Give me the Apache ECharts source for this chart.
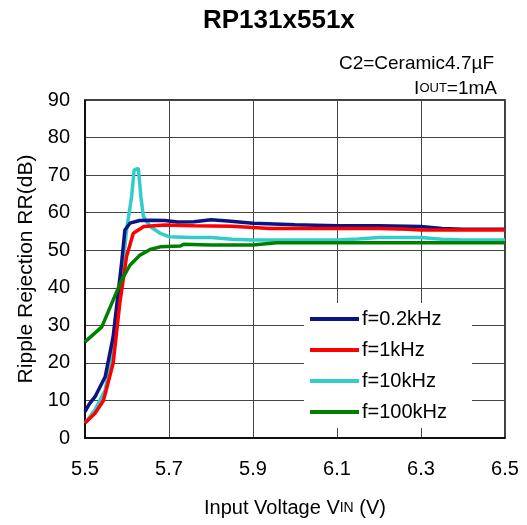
<!DOCTYPE html>
<html><head><meta charset="utf-8">
<script src="https://cdn.jsdelivr.net/npm/echarts@6/dist/echarts.min.js"></script>
<style>html,body{margin:0;padding:0;background:#fff}#c{width:527px;height:525px}</style>
</head><body><div id="c"></div>
<script>
const seriesNames = ['f=0.2kHz', 'f=1kHz', 'f=10kHz', 'f=100kHz'];
const vin_02k = [5.50, 5.51, 5.524, 5.548, 5.567, 5.587, 5.595, 5.607, 5.63, 5.66, 5.69, 5.72, 5.76, 5.80, 5.84, 5.90, 6.00, 6.10, 6.20, 6.30, 6.35, 6.40, 6.50];
const rr_02k  = [7.0, 9.0, 11.0, 16.3, 27, 46.5, 55.4, 57.2, 57.9, 58.0, 57.9, 57.5, 57.6, 58.1, 57.8, 57.2, 56.8, 56.5, 56.5, 56.3, 55.8, 55.6, 55.6];
const vin_1k  = [5.50, 5.524, 5.544, 5.567, 5.583, 5.599, 5.615, 5.64, 5.69, 5.76, 5.85, 5.94, 6.00, 6.10, 6.20, 6.27, 6.30, 6.40, 6.50];
const rr_1k   = [4.0, 6.6, 10.0, 19.9, 36, 48.3, 54.5, 56.3, 56.7, 56.5, 56.4, 55.8, 55.8, 55.8, 55.8, 55.6, 55.4, 55.4, 55.4];
const vin_10k = [5.50, 5.524, 5.548, 5.567, 5.587, 5.599, 5.611, 5.617, 5.627, 5.633, 5.639, 5.655, 5.679, 5.70, 5.75, 5.80, 5.85, 5.90, 6.00, 6.10, 6.15, 6.20, 6.30, 6.35, 6.40, 6.50];
const rr_10k  = [4.0, 7.5, 12.8, 23.4, 42, 55.4, 64.3, 71.4, 71.8, 64.3, 59, 56.3, 54.5, 53.6, 53.4, 53.4, 52.9, 52.7, 52.7, 52.7, 53.0, 53.4, 53.4, 52.9, 52.7, 52.7];
const vin_100k = [5.50, 5.54, 5.567, 5.587, 5.607, 5.631, 5.655, 5.679, 5.727, 5.735, 5.80, 5.90, 5.956, 6.00, 6.50];
const rr_100k  = [25.6, 29.6, 36.7, 42, 46, 48.7, 50.2, 50.9, 51.1, 51.6, 51.4, 51.4, 52.0, 52.0, 52.0];
const colors = ['#0a1482', '#ff0000', '#33cccc', '#008000'];

const zip = (xs, ys) => xs.map((x, i) => [x, ys[i]]);
const datasets = [zip(vin_02k, rr_02k), zip(vin_1k, rr_1k), zip(vin_10k, rr_10k), zip(vin_100k, rr_100k)];
const FONT = '"Liberation Sans", Arial, sans-serif';

const chart = echarts.init(document.getElementById('c'));
chart.setOption({
  animation: false,
  title: { text: 'RP131x551x', left: 203, top: 8, padding: 0, textStyle: { fontFamily: FONT, fontSize: 26, fontWeight: 'bold', color: '#000' } },
  grid: { left: 85, right: 22, top: 100, bottom: 87, show: true, borderColor: '#000', borderWidth: 1.5, backgroundColor: '#fff' },
  xAxis: {
    type: 'value', min: 5.5, max: 6.5, interval: 0.2,
    axisLine: { show: true, lineStyle: { color: '#000', width: 1.5 } },
    axisTick: { show: false },
    splitLine: { show: true, lineStyle: { color: '#444', width: 1 } },
    axisLabel: { margin: 21, fontFamily: FONT, fontSize: 20, color: '#000', formatter: v => v.toFixed(1) },
    name: 'Input Voltage V{s|IN} (V)', nameLocation: 'middle', nameGap: 60,
    nameTextStyle: { fontFamily: FONT, fontSize: 20, color: '#000', rich: { s: { fontFamily: FONT, fontSize: 14, color: '#000' } } }
  },
  yAxis: {
    type: 'value', min: 0, max: 90, interval: 10,
    axisLine: { show: true, lineStyle: { color: '#000', width: 1.5 } },
    axisTick: { show: false },
    splitLine: { show: true, lineStyle: { color: '#444', width: 1 } },
    axisLabel: { margin: 15, fontFamily: FONT, fontSize: 20, color: '#000' },
    name: 'Ripple Rejection RR(dB)', nameLocation: 'middle', nameGap: 48, nameRotate: 90,
    nameTextStyle: { fontFamily: FONT, fontSize: 21, color: '#000' }
  },
  legend: {
    orient: 'vertical', left: 304, top: 303, padding: [6, 25, 6, 6], itemGap: 11,
    backgroundColor: '#fff', icon: 'rect', itemWidth: 49, itemHeight: 4,
    textStyle: { fontFamily: FONT, fontSize: 20, lineHeight: 20, color: '#000', padding: [0, 0, 0, -2] },
    data: seriesNames
  },
  graphic: [
    { type: 'text', right: 33, top: 54, style: { text: 'C2=Ceramic4.7µF', font: '19px "Liberation Sans", Arial, sans-serif', fill: '#000' } },
    { type: 'text', right: 30, top: 79, style: {
      text: '{a|I}{b|OUT}{a|=1mA}',
      rich: { a: { fontFamily: FONT, fontSize: 19, fill: '#000' }, b: { fontFamily: FONT, fontSize: 13, fill: '#000' } } } }
  ],
  series: seriesNames.map((n, i) => ({
    name: n, type: 'line', data: datasets[i], symbol: 'none', smooth: false,
    lineStyle: { color: colors[i], width: 3.5 }, itemStyle: { color: colors[i] }, z: 2 + (i === 2 ? 0 : 1)
  }))
});
</script></body></html>
